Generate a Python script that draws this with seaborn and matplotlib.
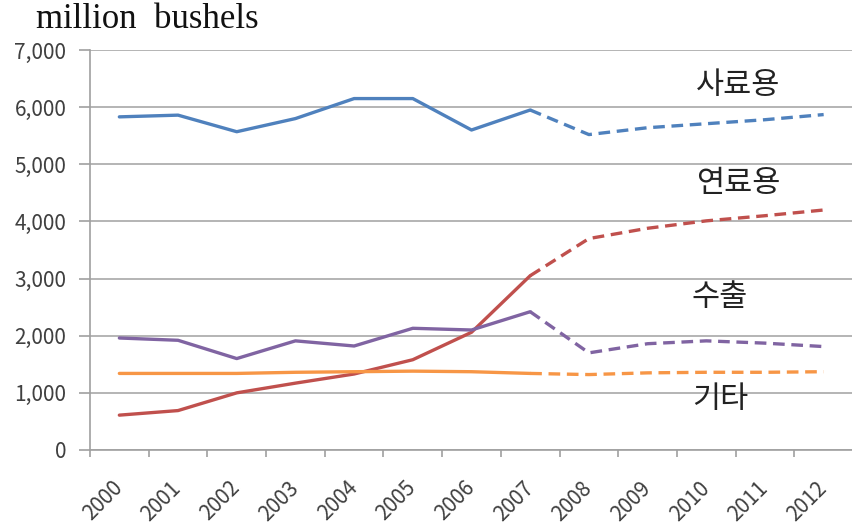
import matplotlib
matplotlib.use("Agg")
import matplotlib.pyplot as plt
import seaborn as sns
import pandas as pd
import numpy as np

years = ["2000", "2001", "2002", "2003", "2004", "2005", "2006",
         "2007", "2008", "2009", "2010", "2011", "2012"]
feed = [5830, 5860, 5570, 5800, 6150, 6150, 5600, 5950, 5520, 5640, 5710, 5780, 5870]
fuel = [610, 690, 1000, 1170, 1330, 1580, 2060, 3050, 3700, 3880, 4010, 4100, 4200]
exports = [1960, 1920, 1600, 1910, 1820, 2130, 2100, 2420, 1700, 1860, 1910, 1870, 1810]
other = [1340, 1340, 1340, 1360, 1370, 1380, 1370, 1340, 1320, 1350, 1360, 1360, 1370]

series = [("사료용", feed, "#4F81BD"), ("연료용", fuel, "#C0504D"),
          ("수출", exports, "#8064A2"), ("기타", other, "#F79646")]
split = 7  # actual through 2007, projection afterwards

sns.set_theme(style="white")
plt.rcParams['font.family'] = ['Noto Sans CJK KR', 'DejaVu Sans']

fig = plt.figure(figsize=(8.53, 5.28), dpi=100)
ax = fig.add_axes([90/853, 78/528, 1 - 90/853, 400/528])

x = np.arange(len(years))
for name, vals, col in series:
    df_a = pd.DataFrame({"x": x[:split + 1], "y": vals[:split + 1]})
    df_p = pd.DataFrame({"x": x[split:], "y": vals[split:]})
    sns.lineplot(data=df_a, x="x", y="y", ax=ax, color=col, lw=2.4)
    sns.lineplot(data=df_p, x="x", y="y", ax=ax, color=col, lw=2.4,
                 linestyle=(0, (3.5, 2.0)))

ax.set_xlim(-0.5, 12.38)
ax.set_ylim(0, 7000)
ax.set_yticks(range(0, 7001, 1000))
ax.set_yticklabels([f"{v:,}" for v in range(0, 7001, 1000)],
                   fontsize=15, color="#404040")
ax.yaxis.grid(True, color="#A8A8A8", lw=1.2)
ax.set_axisbelow(True)

ax.set_xticks(x)
ax.set_xticklabels(years, rotation=45, ha="right", va="center",
                   rotation_mode="anchor", fontsize=15, color="#404040")
ax.set_xticks(np.arange(-0.5, 12.6, 1), minor=True)
ax.tick_params(axis="x", which="major", length=0, pad=25)
ax.tick_params(axis="x", which="minor", length=5, color="#A0A0A0", width=1.2,
               direction="out", bottom=True)
ax.tick_params(axis="y", length=8, color="#A0A0A0", width=1.2, pad=9, left=True)

for s in ["top", "right"]:
    ax.spines[s].set_visible(False)
for s in ["left", "bottom"]:
    ax.spines[s].set_color("#A0A0A0")
    ax.spines[s].set_linewidth(1.2)

ax.set_xlabel("")
ax.set_ylabel("")

label_pos = {"사료용": (738, 85), "연료용": (738, 183), "수출": (720, 297), "기타": (720, 400)}
for name, vals, col in series:
    px, py = label_pos[name]
    fig.text(px / 853, 1 - py / 528, name, fontsize=22, color="#222222",
             ha="center", va="center", family=['Noto Sans CJK KR', 'DejaVu Sans'])

fig.text(36 / 853, 1 - 19 / 528, "million  bushels", fontsize=25,
         family="Liberation Serif", color="#111111", ha="left", va="center")

fig.savefig("out.png", dpi=100, facecolor="white")
